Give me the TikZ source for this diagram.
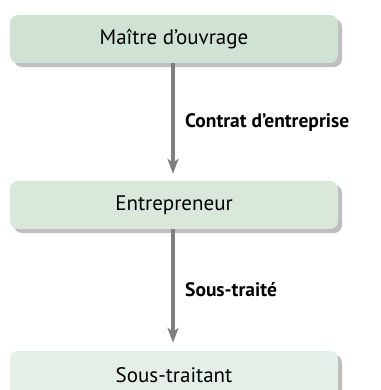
\documentclass[tikz,border=0pt]{standalone}
\usepackage{fontspec}
\setmainfont{PT Sans}
\usetikzlibrary{arrows.meta,shadows}
\definecolor{boxA}{HTML}{D0E2D4}
\definecolor{boxB}{HTML}{DAE8DC}
\definecolor{boxC}{HTML}{E4EFE7}
\definecolor{shad}{HTML}{BEBEBE}
\definecolor{arr}{HTML}{7F7F7F}
\tikzset{
  rolebox/.style={rounded corners=8bp, minimum width=328bp, minimum height=48bp,
    inner sep=0pt, font=\fontsize{21bp}{24bp}\selectfont,
    drop shadow={shadow xshift=4bp, shadow yshift=-4bp, fill=shad, opacity=1}},
  flow/.style={draw=arr, line width=3.2bp, -{Stealth[length=15bp,width=11bp,inset=4bp]}},
  lab/.style={font=\fontsize{19.5bp}{22bp}\selectfont\bfseries, anchor=base west, inner sep=0pt}
}
\begin{document}
\begin{tikzpicture}[x=1bp,y=-1bp]
\useasboundingbox (0,0) rectangle (381,390);
\node[rolebox, fill=boxA] (mo) at (174,39) {Maître d’ouvrage};
\node[rolebox, fill=boxB] (en) at (174,205) {Entrepreneur};
\node[rolebox, fill=boxC] (st) at (174,375) {Sous-traitant};
\draw[flow] (mo.south -| 173,0) -- ([yshift=7bp]en.north -| 173,0) coordinate[midway] (m1);
\draw[flow] (en.south -| 173,0) -- ([yshift=8bp]st.north -| 173,0) coordinate[midway] (m2);
\node[lab] (l1) at (185,127) {Contrat d’entreprise};
\node[lab] (l2) at (185,296) {Sous-traité};
\end{tikzpicture}
\end{document}
